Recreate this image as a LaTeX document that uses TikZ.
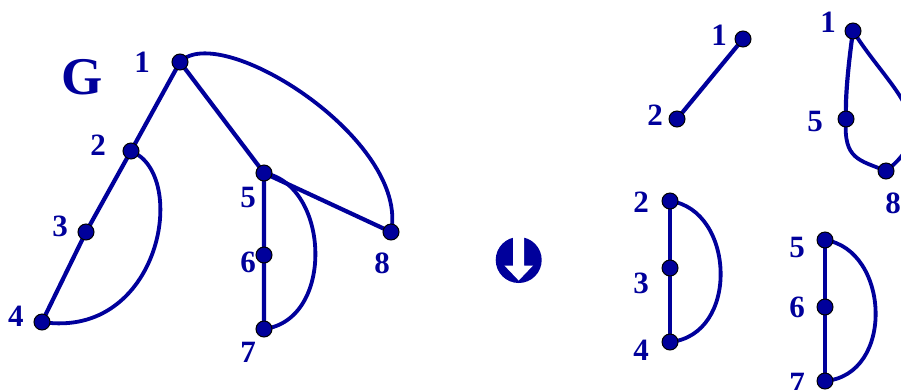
\documentclass[tikz,border=0pt]{standalone}
\usepackage{fontspec}
\setmainfont{Liberation Serif}
\definecolor{gblue}{RGB}{0,0,155}
\tikzset{
  edge/.style={draw=gblue, line width=4.2pt},
  arcedge/.style={draw=gblue, line width=3.8pt},
  vdot/.style={circle, fill=gblue, draw=black, line width=1pt, minimum size=16pt, inner sep=0pt},
  vlab/.style={text=gblue, font=\fontsize{31}{31}\selectfont\bfseries, inner sep=0pt},
  glab/.style={text=gblue, font=\fontsize{53}{53}\selectfont\bfseries, inner sep=0pt}
}
\begin{document}
\begin{tikzpicture}[x=1pt, y=-1pt]
\useasboundingbox (0,0) rectangle (901,389);
\clip (0,0) rectangle (901,389);
% ---- graph G (left)
\coordinate (a1) at (180,62);
\coordinate (a2) at (131,151);
\coordinate (a3) at (86,232);
\coordinate (a4) at (42,322);
\coordinate (a5) at (264,173);
\coordinate (a6) at (264,255);
\coordinate (a7) at (264,329);
\coordinate (a8) at (391,232);
\draw[edge] (a1) -- (a2) -- (a3) -- (a4);
\draw[edge] (a1) -- (a5) -- (a6) -- (a7);
\draw[edge] (a5) -- (a8);
\draw[arcedge] (a1) .. controls (220,20) and (410,140) .. (a8);
\draw[arcedge] (a2) .. controls (190,175) and (160,340) .. (a4);
\draw[arcedge] (a5) .. controls (330,185) and (335,320) .. (a7);
\foreach \n in {1,...,8} \node[vdot] (va\n) at (a\n) {};
\node[glab] (gG) at (82,77) {G};
\node[vlab] (la1) at (142,62) {1};
\node[vlab] (la2) at (98,145) {2};
\node[vlab] (la3) at (60,226) {3};
\node[vlab] (la4) at (16,316) {4};
\node[vlab] (la5) at (248,197) {5};
\node[vlab] (la6) at (248,262) {6};
\node[vlab] (la7) at (248,352) {7};
\node[vlab] (la8) at (382,263) {8};
% ---- arrow icon
\fill[gblue] (518.7,260) circle (23);
\fill[white] (513.2,232) -- (524.2,232) -- (524.2,265.5) -- (533,265.5) -- (518.7,280.5) -- (504.4,265.5) -- (513.2,265.5) -- cycle;
% ---- component 1-2
\coordinate (b1) at (743,39);
\coordinate (b2) at (677,119);
\draw[edge] (b1) -- (b2);
\node[vdot] (vb1) at (b1) {};
\node[vdot] (vb2) at (b2) {};
\node[vlab] (lb1) at (719,35) {1};
\node[vlab] (lb2) at (655,115) {2};
% ---- component 1-5-8
\coordinate (c1) at (853,31);
\coordinate (c5) at (846,119);
\coordinate (c8) at (886,171);
\draw[edge] (c1) .. controls (849,60) and (845,95) .. (c5);
\draw[arcedge] (c5) .. controls (843,160) and (860,160) .. (c8);
\draw[arcedge] (c1) .. controls (890,90) and (945,125) .. (c8);
\node[vdot] (vc1) at (c1) {};
\node[vdot] (vc5) at (c5) {};
\node[vdot] (vc8) at (c8) {};
\node[vlab] (lc1) at (828,22) {1};
\node[vlab] (lc5) at (815,121) {5};
\node[vlab] (lc8) at (893,203) {8};
% ---- component 2-3-4
\coordinate (d2) at (670,201);
\coordinate (d3) at (670,268);
\coordinate (d4) at (670,342);
\draw[edge] (d2) -- (d3) -- (d4);
\draw[arcedge] (d2) .. controls (735,210) and (740,335) .. (d4);
\node[vdot] (vd2) at (d2) {};
\node[vdot] (vd3) at (d3) {};
\node[vdot] (vd4) at (d4) {};
\node[vlab] (ld2) at (641,202) {2};
\node[vlab] (ld3) at (641,283) {3};
\node[vlab] (ld4) at (641,350) {4};
% ---- component 5-6-7
\coordinate (e5) at (825,240);
\coordinate (e6) at (825,307);
\coordinate (e7) at (825,381);
\draw[edge] (e5) -- (e6) -- (e7);
\draw[arcedge] (e5) .. controls (890,250) and (895,375) .. (e7);
\node[vdot] (ve5) at (e5) {};
\node[vdot] (ve6) at (e6) {};
\node[vdot] (ve7) at (e7) {};
\node[vlab] (le5) at (797,247) {5};
\node[vlab] (le6) at (797,307) {6};
\node[vlab] (le7) at (797,383) {7};
\end{tikzpicture}
\end{document}
